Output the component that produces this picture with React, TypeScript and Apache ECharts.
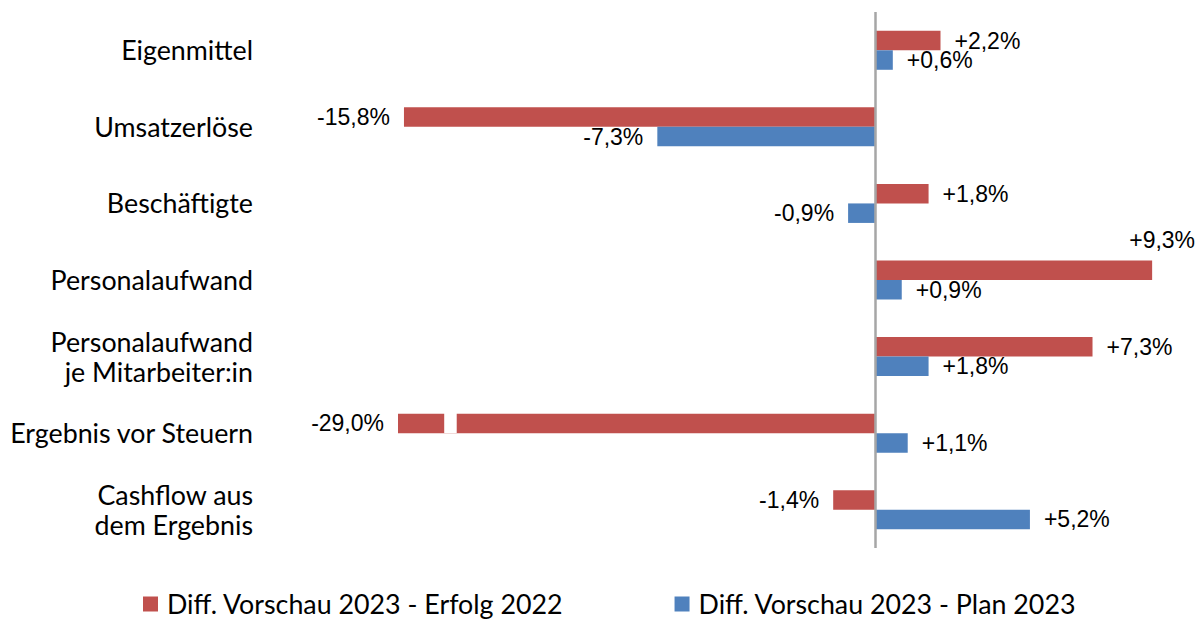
import React, { useEffect, useRef } from "react";
import * as echarts from "echarts";

const categories = [
  "Eigenmittel",
  "Umsatzerlöse",
  "Beschäftigte",
  "Personalaufwand",
  "Personalaufwand\nje Mitarbeiter:in",
  "Ergebnis vor Steuern",
  "Cashflow aus\ndem Ergebnis",
];
const seriesNames = ["Diff. Vorschau 2023 - Erfolg 2022", "Diff. Vorschau 2023 - Plan 2023"];
const erfolg2022 = [2.2, -15.8, 1.8, 9.3, 7.3, -29.0, -1.4];
const plan2023 = [0.6, -7.3, -0.9, 0.9, 1.8, 1.1, 5.2];

// visible axis range (the -29,0% bar is drawn truncated with a break gap)
const axisMin = -16;
const axisMax = 10;
const breakFrom = -14.45;
const breakTo = -14.03;
const brokenIndex = 5;

const RED = "#C0504D";
const BLUE = "#4F81BD";
const BAR_W = 19.5;

const fmt = (v: number) => (v > 0 ? "+" : "") + v.toFixed(1).replace(".", ",") + "%";

export default function App() {
  const ref = useRef<HTMLDivElement>(null);
  useEffect(() => {
    if (!ref.current) return;
    const chart = echarts.init(ref.current, undefined, { renderer: "svg" });
    const valueLabel = {
      show: true,
      position: "right" as const,
      distance: 14,
      fontFamily: "Liberation Sans",
      fontSize: 23,
      color: "#000",
      formatter: (p: any) => fmt(p.value),
    };
    const mkData = (arr: number[], isRed: boolean) =>
      arr.map((v, i) => {
        const item: any = { value: v };
        if (v < 0) item.label = { position: "left" };
        if (isRed && i === 3) {
          item.label = {
            position: ["100%", "0%"],
            offset: [10, -21],
            align: "center",
            verticalAlign: "middle",
          };
        }
        return item;
      });
    chart.setOption({
      animation: false,
      grid: { left: 398, right: 31, top: 12, bottom: 71, containLabel: false },
      legend: {
        left: 143,
        top: 590,
        padding: 0,
        itemWidth: 15,
        itemHeight: 15,
        itemGap: 111,
        icon: "rect",
        textStyle: {
          fontFamily: "Lato",
          fontSize: 26.8,
          lineHeight: 28,
          color: "#000",
          padding: [0, 0, 0, 4],
        },
        data: seriesNames,
      },
      xAxis: {
        type: "value",
        min: axisMin,
        max: axisMax,
        show: false,
        splitLine: { show: false },
      },
      yAxis: {
        type: "category",
        data: categories,
        inverse: true,
        axisLine: { show: false },
        axisTick: { show: false },
        axisLabel: {
          margin: 145,
          fontFamily: "Lato",
          fontSize: 26.8,
          color: "#000",
          lineHeight: 30,
          align: "right",
        },
      },
      series: [
        {
          name: seriesNames[0],
          type: "bar",
          barWidth: BAR_W,
          barGap: "0%",
          clip: true,
          itemStyle: { color: RED },
          label: valueLabel,
          data: mkData(erfolg2022, true),
          markLine: {
            silent: true,
            symbol: "none",
            label: { show: false },
            lineStyle: { color: "#A6A6A6", width: 2.5, type: "solid" },
            data: [{ xAxis: 0 }],
          },
        },
        {
          name: seriesNames[1],
          type: "bar",
          barWidth: BAR_W,
          barGap: "0%",
          clip: true,
          itemStyle: { color: BLUE },
          label: valueLabel,
          data: mkData(plan2023, false),
        },
      ],
    });
    const x1 = chart.convertToPixel({ xAxisIndex: 0 }, breakFrom) as number;
    const x2 = chart.convertToPixel({ xAxisIndex: 0 }, breakTo) as number;
    const yc = chart.convertToPixel({ yAxisIndex: 0 }, brokenIndex) as number;
    chart.setOption({
      graphic: [
        {
          type: "rect",
          z: 100,
          shape: { x: x1, y: yc - BAR_W - 2, width: x2 - x1, height: BAR_W + 2 },
          style: { fill: "#fff" },
          silent: true,
        },
      ],
    });
    return () => chart.dispose();
  }, []);
  return (
    <div
      ref={ref}
      style={{ position: "fixed", left: 0, top: 0, width: 1204, height: 619, background: "#fff" }}
    />
  );
}
